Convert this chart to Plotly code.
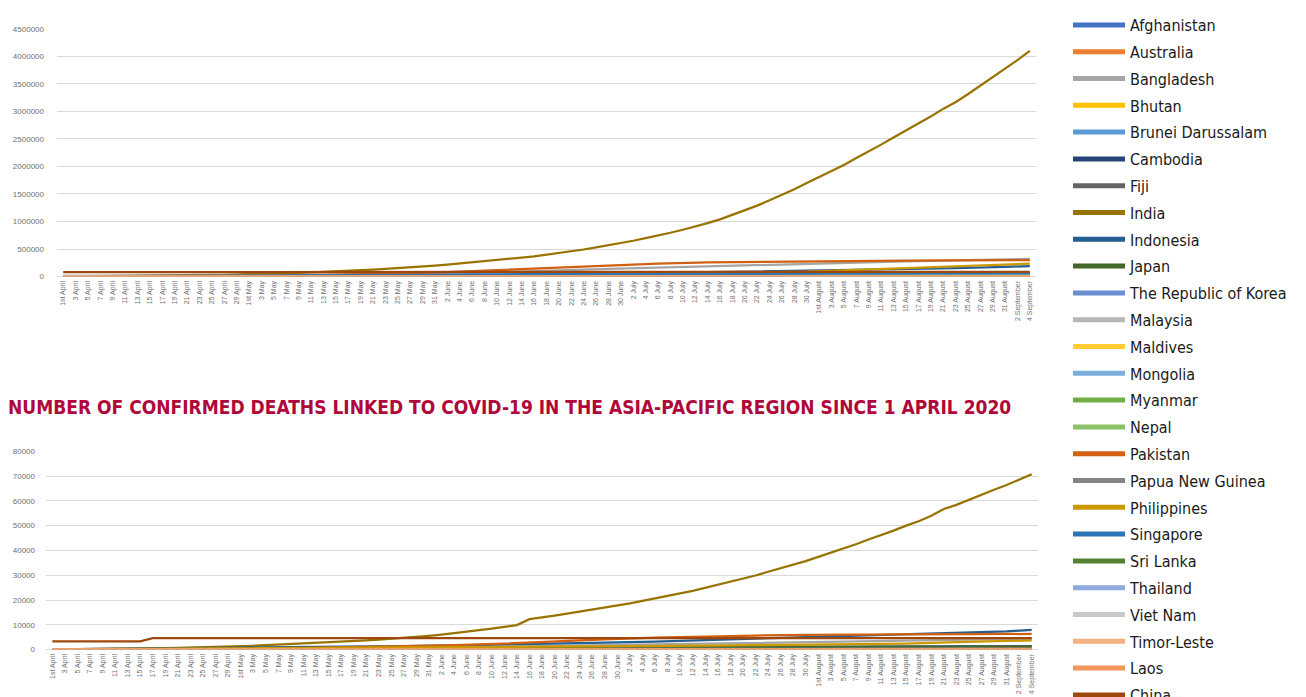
import plotly.graph_objects as go

# ---------------- category labels (every other day, 1 April - 4 September 2020)
labels = [
    "1st April", "3 April", "5 April", "7 April", "9 April", "11 April", "13 April", "15 April",
    "17 April", "19 April", "21 April", "23 April", "25 April", "27 April", "29 April",
    "1st May", "3 May", "5 May", "7 May", "9 May", "11 May", "13 May", "15 May", "17 May",
    "19 May", "21 May", "23 May", "25 May", "27 May", "29 May", "31 May",
    "2 June", "4 June", "6 June", "8 June", "10 June", "12 June", "14 June", "16 June",
    "18 June", "20 June", "22 June", "24 June", "26 June", "28 June", "30 June",
    "2 July", "4 July", "6 July", "8 July", "10 July", "12 July", "14 July", "16 July",
    "18 July", "20 July", "22 July", "24 July", "26 July", "28 July", "30 July",
    "1st August", "3 August", "5 August", "7 August", "9 August", "11 August", "13 August",
    "15 August", "17 August", "19 August", "21 August", "23 August", "25 August",
    "27 August", "29 August", "31 August", "2 September", "4 September",
]

# coarser sample dates used for the smaller series
coarse = [
    "1st April", "9 April", "17 April", "25 April", "3 May", "11 May", "19 May", "27 May",
    "4 June", "12 June", "20 June", "28 June", "6 July", "14 July", "22 July", "30 July",
    "7 August", "15 August", "23 August", "31 August", "4 September",
]
china_death_dates = [
    "1st April", "9 April", "15 April", "17 April", "25 April", "3 May", "11 May", "19 May",
    "27 May", "4 June", "12 June", "20 June", "28 June", "6 July", "14 July", "22 July",
    "30 July", "7 August", "15 August", "23 August", "31 August", "4 September",
]

countries = [
    "Afghanistan", "Australia", "Bangladesh", "Bhutan", "Brunei Darussalam", "Cambodia", "Fiji",
    "India", "Indonesia", "Japan", "The Republic of Korea", "Malaysia", "Maldives", "Mongolia",
    "Myanmar", "Nepal", "Pakistan", "Papua New Guinea", "Philippines", "Singapore", "Sri Lanka",
    "Thailand", "Viet Nam", "Timor-Leste", "Laos", "China",
]
colors = [
    "#4472C4", "#ED7D31", "#A5A5A5", "#FFC000", "#5B9BD5", "#264478", "#636363",
    "#997300", "#255E91", "#43682B", "#698ED0", "#B7B7B7", "#FFCD33", "#7CAFDD",
    "#70AD47", "#8CC168", "#D26012", "#848484", "#CC9A00", "#2E75B6", "#548235",
    "#8FAADC", "#C9C9C9", "#F4B183", "#F1975A", "#9E480E",
]

# ---------------- India (every labelled day)
india_cases = [
    2500, 3600, 4800, 5900, 7600, 9200, 11500, 13400, 15700, 18500, 21800, 24900, 28400, 31300, 35000,
    40000, 46000, 53000, 60000, 67000, 74000, 82000, 91000, 100000, 112000, 125000, 139000, 151000,
    165000, 182000, 198000,
    217000, 236000, 257000, 276000, 298000, 322000, 343000, 367000, 396000, 427000, 456000, 491000,
    529000, 567000, 605000,
    650000, 698000, 743000, 795000, 850000, 907000, 970000, 1039000, 1119000, 1194000, 1288000,
    1386000, 1483000, 1584000, 1697000,
    1804000, 1908000, 2027000, 2153000, 2268000, 2396000, 2526000, 2648000, 2768000, 2905000,
    3045000, 3165000, 3310000, 3465000, 3620000, 3770000, 3930000, 4100000,
]
india_deaths = [
    72, 100, 140, 180, 250, 330, 390, 450, 520, 590, 680, 780, 890, 1010, 1150,
    1320, 1570, 1780, 1990, 2210, 2420, 2650, 2870, 3160, 3440, 3730, 4020, 4340, 4700, 5200, 5600,
    6100, 6650, 7200, 7750, 8500, 9200, 9900, 12300, 12900, 13700, 14500, 15300, 16100, 16900, 17800,
    18700, 19700, 20600, 21600, 22700, 23700, 24900, 26300, 27500, 28700, 29900, 31400, 32800,
    34200, 35700,
    37400, 39000, 40700, 42500, 44400, 46100, 48000, 50000, 51800, 54000, 56700, 58400, 60500,
    62500, 64500, 66400, 68500, 70700,
]

# ---------------- confirmed cases (coarse dates)
afghanistan_cases = [237, 484, 906, 1351, 2704, 4687, 7653, 12456, 18054, 22142, 28424, 30967, 32672, 34740, 35727, 36368, 36829, 37431, 37899, 38196, 38324]
australia_cases = [4862, 6103, 6522, 6695, 6825, 6964, 7068, 7139, 7255, 7302, 7461, 7767, 8755, 10487, 12894, 16303, 20272, 23035, 24812, 25670, 26049]
bangladesh_cases = [56, 330, 2144, 5416, 10143, 15691, 25121, 40321, 60391, 81523, 112306, 137787, 162417, 190057, 213254, 232194, 252502, 276549, 294598, 314946, 320966]
bhutan_cases = [5, 5, 5, 7, 7, 7, 21, 27, 48, 67, 70, 77, 80, 84, 99, 105, 112, 133, 162, 222, 227]
brunei_cases = [131, 135, 137, 138, 138, 141, 141, 141, 141, 141, 141, 141, 141, 141, 141, 141, 142, 143, 144, 145, 146]
cambodia_cases = [109, 117, 122, 122, 122, 122, 122, 124, 125, 126, 130, 141, 141, 156, 197, 226, 243, 264, 273, 274, 274]
fiji_cases = [5, 15, 17, 18, 18, 18, 18, 18, 18, 18, 18, 18, 18, 21, 26, 27, 27, 28, 30, 32, 32]
indonesia_cases = [1677, 3293, 5923, 8607, 11192, 14032, 18496, 23851, 29521, 36406, 45029, 54010, 64958, 78572, 91751, 106336, 121226, 137468, 153535, 174796, 190665]
japan_cases = [2384, 5347, 9787, 12829, 15068, 15874, 16385, 16623, 17064, 17439, 17968, 18476, 19775, 22890, 27956, 34372, 43815, 53577, 61747, 68392, 71419]
korea_cases = [9887, 10423, 10635, 10728, 10793, 10909, 11110, 11265, 11668, 12003, 12373, 12757, 13181, 13551, 13938, 14269, 14562, 15515, 17665, 20182, 21010]
malaysia_cases = [2908, 4228, 5305, 5742, 6298, 6726, 6978, 7619, 8266, 8402, 8535, 8616, 8677, 8737, 8800, 8964, 9038, 9175, 9257, 9340, 9374]
maldives_cases = [18, 19, 51, 189, 519, 910, 1274, 1437, 1883, 2094, 2238, 2361, 2666, 2870, 3163, 3564, 4268, 5139, 6069, 7316, 7371]
mongolia_cases = [14, 16, 33, 38, 41, 42, 140, 148, 185, 197, 204, 220, 227, 261, 287, 289, 293, 298, 301, 306, 306]
myanmar_cases = [15, 23, 86, 146, 151, 180, 191, 201, 233, 262, 287, 299, 317, 339, 341, 353, 361, 375, 430, 682, 1059]
nepal_cases = [5, 9, 30, 49, 75, 217, 375, 1042, 2912, 5062, 8274, 12772, 16168, 17177, 18374, 19547, 21390, 26019, 32678, 39460, 44236]
pakistan_cases = [2039, 4601, 7638, 11940, 19103, 30941, 45898, 59151, 89249, 125933, 171666, 206512, 234509, 255769, 267428, 278305, 283487, 288717, 293261, 296149, 298509]
png_cases = [1, 2, 7, 8, 8, 8, 8, 8, 8, 8, 9, 11, 11, 19, 62, 114, 214, 303, 392, 470, 485]
philippines_cases = [2311, 4076, 6087, 7294, 9223, 11086, 12942, 14669, 20382, 25392, 29400, 35455, 46333, 57545, 72269, 89374, 122754, 153660, 189601, 220819, 234570]
singapore_cases = [1000, 1910, 5050, 12693, 18205, 24671, 28794, 32343, 36405, 39850, 41833, 43459, 45140, 46878, 49375, 51531, 54555, 55838, 56404, 56812, 56901]
srilanka_cases = [146, 190, 238, 460, 718, 863, 992, 1319, 1801, 1880, 1950, 2033, 2094, 2646, 2730, 2805, 2839, 2879, 2959, 3049, 3080]
thailand_cases = [1771, 2423, 2733, 2922, 2987, 3015, 3033, 3054, 3104, 3125, 3151, 3169, 3195, 3236, 3255, 3304, 3341, 3377, 3397, 3417, 3427]
vietnam_cases = [218, 255, 268, 270, 271, 288, 324, 327, 328, 334, 349, 355, 369, 373, 412, 509, 789, 962, 1014, 1044, 1046]
timor_cases = [1, 1, 4, 24, 24, 24, 24, 24, 24, 24, 24, 24, 24, 24, 24, 24, 25, 25, 26, 27, 27]
laos_cases = [10, 16, 19, 19, 19, 19, 19, 19, 19, 19, 19, 19, 19, 19, 20, 20, 20, 22, 22, 22, 22]
china_cases = [81554, 81907, 82719, 82816, 82877, 82918, 82960, 82995, 83027, 83075, 83378, 83500, 83565, 83605, 83729, 84060, 84528, 84808, 84981, 85058, 85122]

# ---------------- confirmed deaths (coarse dates)
afghanistan_deaths = [4, 15, 30, 45, 85, 115, 178, 227, 309, 405, 546, 659, 846, 1060, 1211, 1278, 1307, 1357, 1389, 1402, 1409]
australia_deaths = [21, 51, 71, 83, 95, 97, 100, 103, 102, 102, 102, 104, 106, 113, 145, 189, 295, 397, 502, 657, 737]
bangladesh_deaths = [6, 27, 84, 145, 177, 250, 349, 559, 811, 1095, 1425, 1783, 2096, 2424, 2751, 3035, 3333, 3639, 3907, 4316, 4412]
bhutan_deaths = [0, 0, 0, 0, 0, 0, 0, 0, 0, 0, 0, 0, 0, 0, 0, 0, 0, 0, 0, 0, 0]
brunei_deaths = [1, 1, 1, 1, 1, 1, 2, 2, 2, 2, 2, 2, 3, 3, 3, 3, 3, 3, 3, 3, 3]
cambodia_deaths = [0, 0, 0, 0, 0, 0, 0, 0, 0, 0, 0, 0, 0, 0, 0, 0, 0, 0, 0, 0, 0]
fiji_deaths = [0, 0, 0, 0, 0, 0, 0, 0, 0, 0, 0, 0, 0, 0, 1, 1, 2, 2, 2, 2, 2]
indonesia_deaths = [157, 306, 520, 743, 845, 973, 1191, 1418, 1770, 2048, 2373, 2805, 3241, 3710, 4459, 5058, 5594, 6071, 6594, 7417, 7940]
japan_deaths = [57, 90, 210, 360, 521, 668, 768, 867, 916, 932, 955, 972, 982, 986, 996, 1001, 1036, 1106, 1196, 1307, 1344]
korea_deaths = [165, 200, 230, 242, 250, 256, 263, 269, 273, 277, 280, 282, 285, 289, 296, 300, 304, 306, 309, 326, 334]
malaysia_deaths = [45, 67, 88, 99, 105, 109, 113, 115, 115, 119, 121, 121, 121, 122, 124, 125, 125, 125, 125, 128, 128]
maldives_deaths = [0, 0, 0, 0, 1, 4, 4, 5, 8, 8, 8, 8, 13, 13, 15, 15, 16, 19, 22, 26, 26]
mongolia_deaths = [0, 0, 0, 0, 0, 0, 0, 0, 0, 0, 0, 0, 0, 0, 0, 0, 0, 0, 0, 0, 0]
myanmar_deaths = [1, 4, 4, 5, 6, 6, 6, 6, 6, 6, 6, 6, 6, 6, 6, 6, 6, 6, 6, 6, 7]
nepal_deaths = [0, 0, 0, 0, 0, 0, 2, 5, 11, 14, 22, 29, 38, 40, 45, 52, 56, 68, 126, 201, 265]
pakistan_deaths = [26, 65, 143, 253, 440, 667, 985, 1225, 1838, 2463, 3382, 4167, 4839, 5386, 5709, 5951, 6068, 6168, 6240, 6298, 6342]
png_deaths = [0, 0, 0, 0, 0, 0, 0, 0, 0, 0, 0, 0, 0, 0, 1, 2, 3, 4, 4, 5, 5]
philippines_deaths = [107, 203, 409, 484, 607, 726, 837, 904, 987, 1055, 1116, 1236, 1303, 1603, 1835, 1962, 2123, 2442, 2998, 3558, 3737]
singapore_deaths = [3, 6, 11, 14, 18, 21, 22, 23, 24, 25, 26, 26, 26, 26, 27, 27, 27, 27, 27, 27, 27]
srilanka_deaths = [2, 7, 7, 7, 8, 9, 9, 10, 10, 11, 11, 11, 11, 11, 11, 11, 11, 11, 12, 12, 12]
thailand_deaths = [12, 32, 47, 51, 54, 56, 56, 56, 58, 58, 58, 58, 58, 58, 58, 58, 58, 58, 58, 58, 58]
vietnam_deaths = [0, 0, 0, 0, 0, 0, 0, 0, 0, 0, 0, 0, 0, 0, 0, 0, 8, 24, 27, 34, 35]
timor_deaths = [0, 0, 0, 0, 0, 0, 0, 0, 0, 0, 0, 0, 0, 0, 0, 0, 0, 0, 0, 0, 0]
laos_deaths = [0, 0, 0, 0, 0, 0, 0, 0, 0, 0, 0, 0, 0, 0, 0, 0, 0, 0, 0, 0, 0]
china_deaths = [3312, 3336, 3342, 4632, 4632, 4633, 4633, 4634, 4634, 4634, 4634, 4634, 4634, 4634, 4634, 4634, 4634, 4634, 4634, 4634, 4634, 4634]

title_text = "NUMBER OF CONFIRMED DEATHS LINKED TO COVID-19 IN THE ASIA-PACIFIC REGION SINCE 1 APRIL 2020"

# ---------------- assemble series
series = [
    (coarse, afghanistan_cases, coarse, afghanistan_deaths),
    (coarse, australia_cases, coarse, australia_deaths),
    (coarse, bangladesh_cases, coarse, bangladesh_deaths),
    (coarse, bhutan_cases, coarse, bhutan_deaths),
    (coarse, brunei_cases, coarse, brunei_deaths),
    (coarse, cambodia_cases, coarse, cambodia_deaths),
    (coarse, fiji_cases, coarse, fiji_deaths),
    (labels, india_cases, labels, india_deaths),
    (coarse, indonesia_cases, coarse, indonesia_deaths),
    (coarse, japan_cases, coarse, japan_deaths),
    (coarse, korea_cases, coarse, korea_deaths),
    (coarse, malaysia_cases, coarse, malaysia_deaths),
    (coarse, maldives_cases, coarse, maldives_deaths),
    (coarse, mongolia_cases, coarse, mongolia_deaths),
    (coarse, myanmar_cases, coarse, myanmar_deaths),
    (coarse, nepal_cases, coarse, nepal_deaths),
    (coarse, pakistan_cases, coarse, pakistan_deaths),
    (coarse, png_cases, coarse, png_deaths),
    (coarse, philippines_cases, coarse, philippines_deaths),
    (coarse, singapore_cases, coarse, singapore_deaths),
    (coarse, srilanka_cases, coarse, srilanka_deaths),
    (coarse, thailand_cases, coarse, thailand_deaths),
    (coarse, vietnam_cases, coarse, vietnam_deaths),
    (coarse, timor_cases, coarse, timor_deaths),
    (coarse, laos_cases, coarse, laos_deaths),
    (coarse, china_cases, china_death_dates, china_deaths),
]

W, H = 1306, 697
fig = go.Figure()

for name, color, (cx, cy, dx, dy) in zip(countries, colors, series):
    fig.add_trace(go.Scatter(
        x=cx, y=cy, mode="lines", name=name, legendgroup=name, showlegend=False,
        line=dict(color=color, width=2.25), xaxis="x", yaxis="y",
    ))
    fig.add_trace(go.Scatter(
        x=dx, y=dy, mode="lines", name=name, legendgroup=name, showlegend=False,
        line=dict(color=color, width=2.25), xaxis="x2", yaxis="y2",
    ))
    # legend entry (thicker key line, no plotted data)
    fig.add_trace(go.Scatter(
        x=[None], y=[None], mode="lines", name=name, legendgroup=name, showlegend=True,
        line=dict(color=color, width=5), xaxis="x", yaxis="y", hoverinfo="skip",
    ))

tick_font = dict(family="Liberation Sans, Arial, sans-serif", size=7, color="#707070")
narrow = "DejaVu Sans Condensed, DejaVu Sans, sans-serif"

common_x = dict(
    type="category", categoryorder="array", categoryarray=labels,
    range=[-0.5, len(labels) - 0.5], tickangle=-90, tickfont=tick_font,
    showgrid=False, showline=False, zeroline=False, ticks="", ticklabelstandoff=2,
)
common_y = dict(
    tickformat="d", tickfont=dict(tick_font, size=8), showgrid=True, gridcolor="#D9D9D9", gridwidth=1,
    zeroline=True, zerolinecolor="#D9D9D9", zerolinewidth=1, showline=False, ticks="",
)

fig.update_layout(
    width=W, height=H,
    margin=dict(l=0, r=0, t=0, b=0),
    paper_bgcolor="white", plot_bgcolor="white",
    xaxis=dict(common_x, domain=[49 / W, 1028 / W], anchor="y"),
    yaxis=dict(common_y, domain=[1 - 268 / H, 1 - 17 / H], range=[0, 4500000], dtick=500000,
               anchor="x", ticklabelstandoff=12),
    xaxis2=dict(common_x, domain=[38 / W, 1030 / W], anchor="y2"),
    yaxis2=dict(common_y, domain=[1 - 646 / H, 1 - 445 / H], range=[0, 80000], dtick=10000,
                anchor="x2", ticklabelstandoff=10),
    legend=dict(
        x=1060 / W, xanchor="left", y=1 - 2 / H, yanchor="top",
        font=dict(family=narrow, size=16, color="#1a1a1a"),
        tracegroupgap=3, itemwidth=52, maxheight=1200,
        bgcolor="rgba(0,0,0,0)", traceorder="grouped",
    ),
    showlegend=True,
    annotations=[dict(
        text="<b>" + title_text + "</b>", x=-2 / W, y=1 - 400 / H, xref="paper", yref="paper",
        xanchor="left", yanchor="middle", showarrow=False,
        font=dict(family=narrow, size=19, color="#B0083A"),
    )],
)

fig.write_html("out.html")
